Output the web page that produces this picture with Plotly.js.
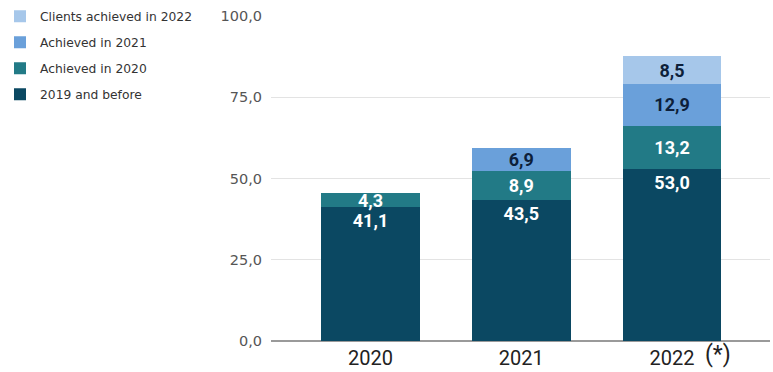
<!DOCTYPE html>
<html><head><meta charset="utf-8">
<script src="https://cdn.plot.ly/plotly-3.0.1.min.js"></script>
<style>html,body{margin:0;padding:0;background:#fff}</style>
</head><body><div id="c" style="width:773px;height:372px"></div>
<script>
var years = ['2020', '2021', '2022'];
var before2019 = [41.1, 43.5, 53.0];
var achieved2020 = [4.3, 8.9, 13.2];
var achieved2021 = [null, 6.9, 12.9];
var achieved2022 = [null, null, 8.5];
var names = ['2019 and before', 'Achieved in 2020', 'Achieved in 2021', 'Clients achieved in 2022'];
var colors = ['#0b4862', '#227a86', '#6aa0da', '#a6c7ea'];
var textColors = ['#ffffff', '#ffffff', '#0d1f3a', '#0d1f3a'];
var series = [before2019, achieved2020, achieved2021, achieved2022];

var traces = series.map(function (v, i) {
  return {
    type: 'bar', x: years, y: v, name: names[i], legendgroup: 'g' + i,
    legendrank: 10 - i,
    marker: { color: colors[i] },
    texttemplate: '%{y:.1f}', textposition: 'inside',
    insidetextanchor: i === 0 ? 'end' : 'middle',
    constraintext: 'none',
    textfont: { family: 'Roboto', size: 18, color: textColors[i], weight: 'bold' },
    hoverinfo: 'skip'
  };
});

var layout = {
  width: 773, height: 372,
  margin: { l: 271, r: 3, t: 16, b: 31 },
  barmode: 'stack', bargap: 0.345,
  separators: ',.',
  paper_bgcolor: '#fff', plot_bgcolor: '#fff',
  font: { family: 'DejaVu Sans', color: '#444' },
  xaxis: {
    type: 'category', range: [-0.66, 2.65],
    tickfont: { family: 'Roboto', size: 20, color: '#222' },
    ticks: '', showgrid: false, zeroline: false, showline: false,
    ticklabelstandoff: 3
  },
  yaxis: {
    range: [0, 100], dtick: 25, tickformat: '.1f',
    tickfont: { family: 'DejaVu Sans', size: 14.5, color: '#555' },
    gridcolor: '#e3e3e3', gridwidth: 1,
    zeroline: true, zerolinecolor: '#9a9a9a', zerolinewidth: 2,
    ticks: '', ticklabelstandoff: 8
  },
  showlegend: true,
  legend: {
    xref: 'container', yref: 'container', x: 0, y: 0.995, xanchor: 'left', yanchor: 'top',
    traceorder: 'grouped', tracegroupgap: 7,
    font: { family: 'DejaVu Sans', size: 12.3, color: '#333' },
    bgcolor: 'rgba(0,0,0,0)'
  },
  annotations: [{
    x: 0.866, y: 0.006, xref: 'paper', yref: 'paper', text: '(*)', showarrow: false,
    xanchor: 'left', yanchor: 'top',
    font: { family: 'Roboto', size: 23, color: '#222' }
  }]
};
Plotly.newPlot('c', traces, layout, { displayModeBar: false, staticPlot: true });
</script></body></html>
